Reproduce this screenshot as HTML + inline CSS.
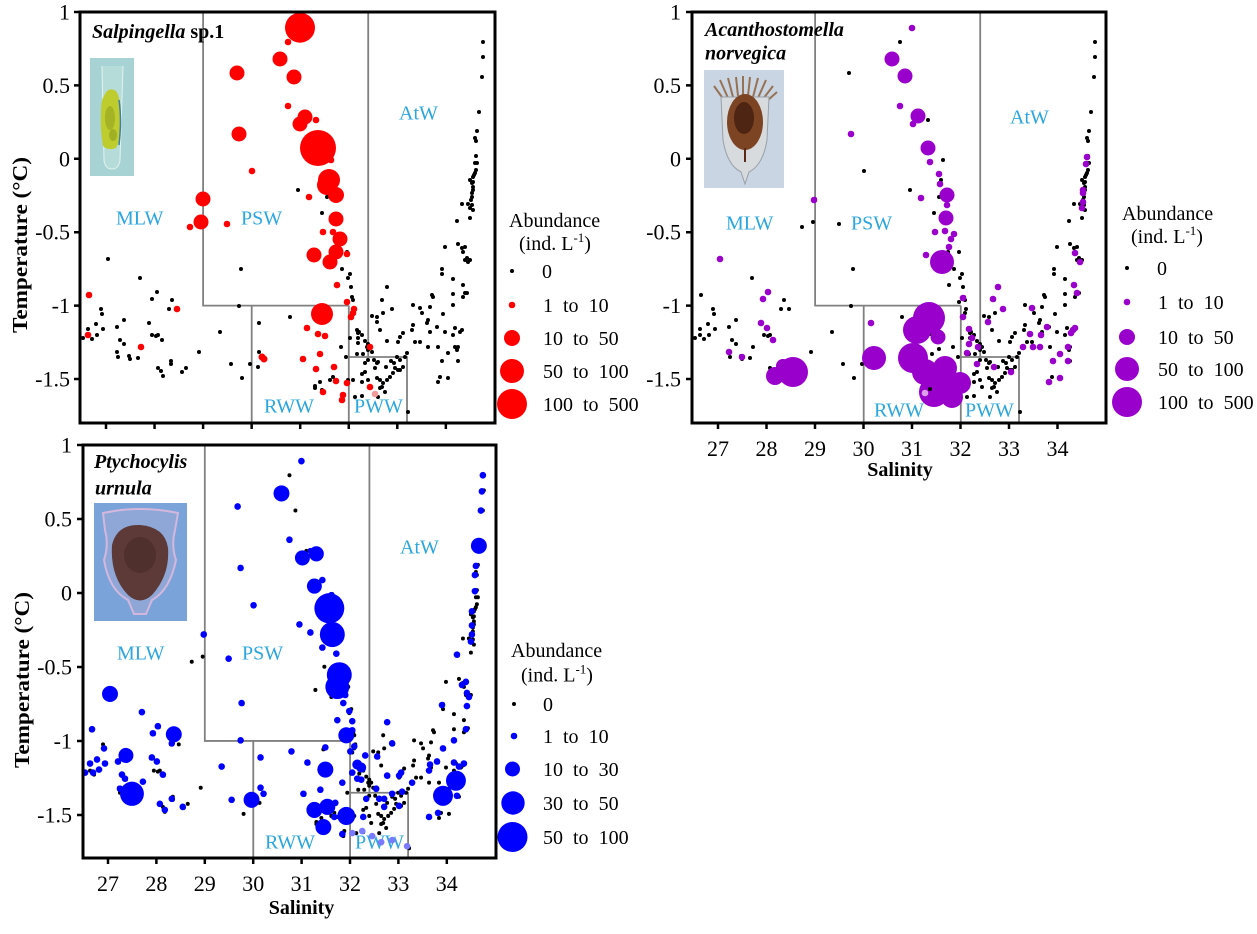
<!DOCTYPE html>
<html>
<head>
<meta charset="utf-8">
<style>
html,body{margin:0;padding:0;background:#fff;}
svg{display:block;}
.t{font-family:"Liberation Serif","Times New Roman",serif;}
</style>
</head>
<body>
<svg width="1257" height="934" viewBox="0 0 1257 934" xmlns="http://www.w3.org/2000/svg" class="t">
<defs>
<g id="base" fill="#000">
<circle cx="483" cy="42" r="2"/><circle cx="483" cy="57" r="2"/><circle cx="482" cy="77" r="2"/><circle cx="479" cy="112" r="2"/><circle cx="477" cy="131" r="2"/><circle cx="475" cy="138" r="2"/><circle cx="476" cy="141" r="2"/><circle cx="476" cy="156" r="2"/><circle cx="477" cy="163" r="2"/><circle cx="476" cy="170" r="2"/><circle cx="474" cy="175" r="2"/><circle cx="473" cy="182" r="2"/><circle cx="473" cy="187" r="2"/><circle cx="472" cy="193" r="2"/><circle cx="475" cy="163" r="2"/><circle cx="475" cy="173" r="2"/><circle cx="473" cy="177" r="2"/><circle cx="470" cy="180" r="2"/><circle cx="472" cy="183" r="2"/><circle cx="473" cy="190" r="2"/><circle cx="472" cy="197" r="2"/><circle cx="471" cy="200" r="2"/><circle cx="472" cy="205" r="2"/><circle cx="462" cy="204" r="2"/><circle cx="468" cy="204" r="2"/><circle cx="470" cy="208" r="2"/><circle cx="473" cy="210" r="2"/><circle cx="470" cy="218" r="2"/><circle cx="457" cy="221" r="2"/>
<circle cx="445" cy="247" r="2"/><circle cx="458" cy="244" r="2"/><circle cx="462" cy="248" r="2"/><circle cx="463" cy="252" r="2"/><circle cx="465" cy="247" r="2"/><circle cx="467" cy="258" r="2"/><circle cx="468" cy="262" r="2"/><circle cx="470" cy="260" r="2"/><circle cx="465" cy="260" r="2"/><circle cx="442" cy="269" r="2"/><circle cx="442" cy="274" r="2"/><circle cx="453" cy="279" r="2"/><circle cx="463" cy="285" r="2"/><circle cx="465" cy="293" r="2"/><circle cx="467" cy="293" r="2"/><circle cx="463" cy="297" r="2"/><circle cx="453" cy="294" r="2"/><circle cx="432" cy="295" r="2"/><circle cx="433" cy="297" r="2"/><circle cx="453" cy="305" r="2"/><circle cx="443" cy="314" r="2"/><circle cx="430" cy="307" r="2"/><circle cx="413" cy="305" r="2"/><circle cx="420" cy="308" r="2"/><circle cx="422" cy="313" r="2"/><circle cx="428" cy="320" r="2"/><circle cx="427" cy="323" r="2"/><circle cx="413" cy="325" r="2"/><circle cx="437" cy="327" r="2"/><circle cx="430" cy="332" r="2"/><circle cx="445" cy="332" r="2"/><circle cx="455" cy="328" r="2"/><circle cx="462" cy="330" r="2"/><circle cx="460" cy="332" r="2"/><circle cx="453" cy="335" r="2"/><circle cx="412" cy="330" r="2"/><circle cx="403" cy="333" r="2"/><circle cx="400" cy="337" r="2"/><circle cx="398" cy="342" r="2"/><circle cx="415" cy="342" r="2"/><circle cx="420" cy="342" r="2"/><circle cx="428" cy="347" r="2"/><circle cx="438" cy="347" r="2"/><circle cx="455" cy="347" r="2"/><circle cx="458" cy="347" r="2"/><circle cx="457" cy="350" r="2"/><circle cx="448" cy="353" r="2"/><circle cx="458" cy="361" r="2"/><circle cx="442" cy="361" r="2"/><circle cx="438" cy="382" r="2"/><circle cx="440" cy="377" r="2"/><circle cx="448" cy="378" r="2"/>
<circle cx="342" cy="269" r="2"/><circle cx="347" cy="252" r="2"/><circle cx="348" cy="278" r="2"/><circle cx="350" cy="274" r="2"/><circle cx="351" cy="287" r="2"/><circle cx="352" cy="297" r="2"/><circle cx="353" cy="300" r="2"/><circle cx="372" cy="316" r="2"/><circle cx="377" cy="317" r="2"/><circle cx="377" cy="322" r="2"/><circle cx="387" cy="287" r="2"/><circle cx="382" cy="300" r="2"/><circle cx="392" cy="309" r="2"/><circle cx="383" cy="313" r="2"/><circle cx="380" cy="330" r="2"/><circle cx="387" cy="341" r="2"/><circle cx="357" cy="330" r="2"/><circle cx="358" cy="333" r="2"/><circle cx="359" cy="332" r="2"/><circle cx="362" cy="335" r="2"/><circle cx="358" cy="338" r="2"/><circle cx="350" cy="338" r="2"/><circle cx="358" cy="343" r="2"/><circle cx="365" cy="341" r="2"/><circle cx="368" cy="344" r="2"/><circle cx="367" cy="347" r="2"/><circle cx="368" cy="350" r="2"/><circle cx="372" cy="352" r="2"/><circle cx="363" cy="354" r="2"/><circle cx="357" cy="354" r="2"/><circle cx="365" cy="363" r="2"/><circle cx="374" cy="360" r="2"/><circle cx="377" cy="363" r="2"/><circle cx="378" cy="362" r="2"/>
<circle cx="397" cy="357" r="2"/><circle cx="394" cy="363" r="2"/><circle cx="391" cy="361" r="2"/><circle cx="395" cy="368" r="2"/><circle cx="400" cy="370" r="2"/><circle cx="393" cy="373" r="2"/><circle cx="390" cy="377" r="2"/><circle cx="387" cy="380" r="2"/><circle cx="383" cy="383" r="2"/><circle cx="382" cy="387" r="2"/><circle cx="380" cy="388" r="2"/><circle cx="377" cy="378" r="2"/><circle cx="375" cy="368" r="2"/><circle cx="368" cy="360" r="2"/><circle cx="365" cy="372" r="2"/><circle cx="362" cy="374" r="2"/><circle cx="368" cy="380" r="2"/><circle cx="362" cy="382" r="2"/><circle cx="353" cy="380" r="2"/><circle cx="348" cy="380" r="2"/><circle cx="355" cy="397" r="2"/><circle cx="362" cy="396" r="2"/><circle cx="385" cy="392" r="2"/><circle cx="378" cy="397" r="2"/><circle cx="408" cy="412" r="2"/><circle cx="405" cy="357" r="2"/><circle cx="400" cy="360" r="2"/><circle cx="403" cy="367" r="2"/><circle cx="407" cy="353" r="2"/><circle cx="398" cy="370" r="2"/><circle cx="386" cy="367" r="2"/><circle cx="380" cy="380" r="2"/><circle cx="315" cy="386" r="2"/><circle cx="320" cy="382" r="2"/><circle cx="322" cy="390" r="2"/><circle cx="315" cy="388" r="2"/><circle cx="341" cy="347" r="2"/><circle cx="333" cy="377" r="2"/><circle cx="330" cy="380" r="2"/><circle cx="346" cy="357" r="2"/>
<circle cx="108" cy="259" r="2"/><circle cx="140" cy="278" r="2"/><circle cx="157" cy="292" r="2"/><circle cx="152" cy="299" r="2"/><circle cx="172" cy="300" r="2"/><circle cx="169" cy="309" r="2"/><circle cx="101" cy="309" r="2"/><circle cx="102" cy="314" r="2"/><circle cx="96" cy="324" r="2"/><circle cx="88" cy="329" r="2"/><circle cx="97" cy="335" r="2"/><circle cx="92" cy="339" r="2"/><circle cx="103" cy="329" r="2"/><circle cx="117" cy="327" r="2"/><circle cx="124" cy="320" r="2"/><circle cx="149" cy="323" r="2"/><circle cx="152" cy="335" r="2"/><circle cx="156" cy="336" r="2"/><circle cx="158" cy="335" r="2"/><circle cx="162" cy="340" r="2"/><circle cx="120" cy="340" r="2"/><circle cx="124" cy="344" r="2"/><circle cx="117" cy="352" r="2"/><circle cx="118" cy="357" r="2"/><circle cx="129" cy="356" r="2"/><circle cx="130" cy="359" r="2"/><circle cx="138" cy="358" r="2"/><circle cx="158" cy="368" r="2"/><circle cx="161" cy="371" r="2"/><circle cx="163" cy="376" r="2"/><circle cx="171" cy="361" r="2"/><circle cx="171" cy="364" r="2"/><circle cx="182" cy="372" r="2"/><circle cx="186" cy="368" r="2"/><circle cx="199" cy="352" r="2"/><circle cx="220" cy="332" r="2"/><circle cx="231" cy="364" r="2"/><circle cx="242" cy="378" r="2"/><circle cx="250" cy="364" r="2"/><circle cx="258" cy="367" r="2"/><circle cx="259" cy="352" r="2"/><circle cx="259" cy="323" r="2"/><circle cx="239" cy="306" r="2"/><circle cx="241" cy="269" r="2"/><circle cx="290" cy="317" r="2"/><circle cx="83" cy="338" r="2"/>
<circle cx="298" cy="190" r="2"/><circle cx="327" cy="197" r="2"/><circle cx="322" cy="213" r="2"/>
<circle cx="300" cy="28" r="2"/><circle cx="288" cy="42" r="2"/><circle cx="280" cy="59" r="2"/><circle cx="237" cy="73" r="2"/><circle cx="294" cy="77" r="2"/><circle cx="288" cy="106" r="2"/><circle cx="305" cy="117" r="2"/><circle cx="300" cy="124" r="2"/><circle cx="316" cy="120" r="2"/><circle cx="239" cy="134" r="2"/><circle cx="318" cy="148" r="2"/><circle cx="331" cy="160" r="2"/><circle cx="252" cy="171" r="2"/><circle cx="329" cy="180" r="2"/><circle cx="333" cy="195" r="2"/><circle cx="203" cy="199" r="2"/><circle cx="309" cy="197" r="2"/><circle cx="201" cy="222" r="2"/><circle cx="190" cy="227" r="2"/><circle cx="227" cy="224" r="2"/><circle cx="336" cy="219" r="2"/><circle cx="323" cy="232" r="2"/><circle cx="333" cy="232" r="2"/><circle cx="340" cy="239" r="2"/><circle cx="336" cy="252" r="2"/><circle cx="330" cy="262" r="2"/><circle cx="314" cy="255" r="2"/><circle cx="337" cy="285" r="2"/><circle cx="347" cy="302" r="2"/><circle cx="354" cy="309" r="2"/><circle cx="353" cy="313" r="2"/><circle cx="351" cy="317" r="2"/><circle cx="89" cy="295" r="2"/><circle cx="88" cy="335" r="2"/><circle cx="141" cy="347" r="2"/><circle cx="177" cy="309" r="2"/><circle cx="322" cy="314" r="2"/><circle cx="307" cy="328" r="2"/><circle cx="318" cy="334" r="2"/><circle cx="325" cy="336" r="2"/><circle cx="320" cy="354" r="2"/><circle cx="303" cy="359" r="2"/><circle cx="262" cy="357" r="2"/><circle cx="316" cy="369" r="2"/><circle cx="334" cy="367" r="2"/><circle cx="336" cy="381" r="2"/><circle cx="347" cy="383" r="2"/><circle cx="323" cy="392" r="2"/><circle cx="343" cy="395" r="2"/><circle cx="342" cy="400" r="2"/><circle cx="370" cy="387" r="2"/><circle cx="370" cy="347" r="2"/>
</g>
<g id="boxes" fill="none" stroke="#808080" stroke-width="1.8">
<path d="M203.1,12 V305.6 H348.8"/>
<path d="M251.7,305.6 V423"/>
<path d="M348.8,305.6 V423"/>
<path d="M368.2,12 V357"/>
<path d="M348.8,357 H407 V423"/>
</g>
</defs>

<rect x="0" y="0" width="1257" height="934" fill="#fff"/>

<!-- ================= PANEL 1 ================= -->
<use href="#boxes"/>
<g fill="#2ba6de" font-size="20">
<text x="116" y="224.6">MLW</text>
<text x="241" y="224.6">PSW</text>
<text x="399" y="119.6">AtW</text>
<text x="264" y="412.6">RWW</text>
<text x="354" y="412.6">PWW</text>
</g>
<!-- inset image 1 -->
<rect x="90" y="58" width="44" height="118" fill="#a7d3d5"/>
<path d="M102,66 L104,160 Q105,169 112,169 Q119,169 120,160 L123,66" fill="#b5dcd8" stroke="#e4f2ee" stroke-width="1"/>
<path d="M104,96 Q108,86 116,91 Q122,100 120,120 Q121,140 116,148 Q108,151 103,146 Q100,130 101,112 Q101,100 104,96Z" fill="#bfcc2e"/>
<ellipse cx="110" cy="118" rx="5" ry="12" fill="#97a822" opacity="0.7"/>
<ellipse cx="113" cy="135" rx="4" ry="6" fill="#8c9d20" opacity="0.6"/>
<path d="M119,100 Q122,120 119,145" stroke="#3f7f9f" stroke-width="1.5" fill="none"/>
<use href="#base"/>
<g fill="#ff0000">
<circle cx="300" cy="27.7" r="15"/><circle cx="288" cy="42" r="3.3"/><circle cx="280" cy="59" r="7.5"/><circle cx="237" cy="73" r="7.5"/><circle cx="294" cy="77" r="7.5"/><circle cx="288" cy="106" r="3.3"/><circle cx="305" cy="117" r="7.5"/><circle cx="300" cy="124" r="7.5"/><circle cx="316" cy="120" r="3.3"/><circle cx="239" cy="134" r="7.5"/><circle cx="318" cy="148" r="18"/><circle cx="331" cy="160" r="3.3"/><circle cx="252" cy="171" r="3.3"/><circle cx="329" cy="180" r="11"/><circle cx="327" cy="185" r="10"/><circle cx="336" cy="195" r="8"/><circle cx="203" cy="199" r="7.5"/><circle cx="309" cy="197" r="3.3"/><circle cx="201" cy="222" r="7.5"/><circle cx="190" cy="227" r="3.3"/><circle cx="227" cy="224" r="3.3"/><circle cx="336" cy="219" r="7.5"/><circle cx="323" cy="232" r="3.3"/><circle cx="333" cy="232" r="3.3"/><circle cx="340" cy="239" r="7.5"/><circle cx="336" cy="252" r="7.5"/><circle cx="330" cy="262" r="7.5"/><circle cx="314" cy="255" r="7.5"/><circle cx="347" cy="254" r="3.3"/><circle cx="337" cy="285" r="3.3"/><circle cx="347" cy="302" r="3.3"/><circle cx="354" cy="309" r="3.3"/><circle cx="353" cy="313" r="3.3"/><circle cx="351" cy="317" r="3.3"/><circle cx="89" cy="295" r="3.3"/><circle cx="88" cy="335" r="3.3"/><circle cx="141" cy="347" r="3.3"/><circle cx="177" cy="309" r="3.3"/><circle cx="322" cy="314" r="11"/><circle cx="307" cy="328" r="3.3"/><circle cx="318" cy="334" r="3.3"/><circle cx="325" cy="336" r="3.3"/><circle cx="320" cy="354" r="3.3"/><circle cx="303" cy="359" r="3.3"/><circle cx="262" cy="357" r="3.5"/><circle cx="264" cy="359" r="3.5"/><circle cx="316" cy="369" r="3.3"/><circle cx="334" cy="367" r="3.3"/><circle cx="336" cy="381" r="3.3"/><circle cx="347" cy="383" r="3.3"/><circle cx="323" cy="392" r="3.3"/><circle cx="343" cy="395" r="3.3"/><circle cx="342" cy="400" r="3.3"/><circle cx="370" cy="387" r="3.3"/><circle cx="370" cy="347" r="3.3"/>
</g>
<circle cx="375" cy="394" r="3.3" fill="#f49a9a"/>
<!-- frame 1 -->
<rect x="80" y="12" width="415" height="411" fill="none" stroke="#000" stroke-width="3"/>
<g stroke="#000" stroke-width="2.5">
<path d="M74,12H80M74,85.4H80M74,158.8H80M74,232.2H80M74,305.6H80M74,379H80"/>
<path d="M106,423V429M154.55,423V429M203.1,423V429M251.65,423V429M300.2,423V429M348.75,423V429M397.3,423V429M445.85,423V429"/>
</g>
<g font-size="22" text-anchor="end">
<text x="70" y="19.5">1</text><text x="70" y="93">0.5</text><text x="70" y="166.3">0</text><text x="70" y="239.7">-0.5</text><text x="70" y="313.1">-1</text><text x="70" y="386.5">-1.5</text>
</g>
<text transform="translate(27,245) rotate(-90)" text-anchor="middle" font-size="21" font-weight="bold" textLength="176" lengthAdjust="spacingAndGlyphs">Temperature (°C)</text>
<text x="92" y="38" font-size="20" font-weight="bold"><tspan font-style="italic">Salpingella</tspan> sp.1</text>
<!-- legend 1 -->
<g font-size="20">
<text x="509" y="227">Abundance</text>
<text x="519" y="250">(ind. L<tspan font-size="13" dy="-8">-1</tspan><tspan dy="8">)</tspan></text>
<circle cx="512" cy="271" r="2" fill="#000"/><text x="542" y="278">0</text>
<circle cx="512" cy="305" r="3.3" fill="#f00"/><text x="543" y="312">1</text><text x="563" y="312">to</text><text x="588.6" y="312">10</text>
<circle cx="512" cy="338" r="8" fill="#f00"/><text x="543" y="345">10</text><text x="573" y="345">to</text><text x="598.6" y="345">50</text>
<circle cx="512" cy="371" r="12" fill="#f00"/><text x="543" y="378">50</text><text x="573" y="378">to</text><text x="598.6" y="378">100</text>
<circle cx="512" cy="404" r="15" fill="#f00"/><text x="543" y="411">100</text><text x="583" y="411">to</text><text x="608.6" y="411">500</text>
</g>

<!-- ================= PANEL 2 ================= -->
<g transform="translate(612,0)"><use href="#boxes"/></g>
<g fill="#2ba6de" font-size="20">
<text x="726" y="229.6">MLW</text>
<text x="851" y="229.6">PSW</text>
<text x="1010" y="123.6">AtW</text>
<text x="874" y="416.6">RWW</text>
<text x="965" y="416.6">PWW</text>
</g>
<!-- inset image 2 -->
<rect x="704" y="70" width="80" height="118" fill="#c9d5e3"/>
<g stroke="#8a5a30" stroke-width="2" opacity="0.8" fill="none">
<path d="M724,100 L714,86"/><path d="M728,98 L720,80"/><path d="M733,97 L728,78"/><path d="M738,96 L736,77"/><path d="M743,96 L743,76"/><path d="M748,96 L750,77"/><path d="M753,97 L758,78"/><path d="M758,98 L766,80"/><path d="M763,99 L773,86"/><path d="M767,101 L777,92"/>
</g>
<path d="M721,97 L769,97 L767,140 Q763,165 749,172 L745,184 L741,172 Q727,165 723,140 Z" fill="#d7dbde" stroke="#98a0a8" stroke-width="1"/>
<ellipse cx="745" cy="122" rx="18" ry="28" fill="#7d4424"/>
<ellipse cx="744" cy="118" rx="10" ry="16" fill="#4e2412"/>
<path d="M745,148 L745,162" stroke="#5a2a15" stroke-width="2"/>
<g transform="translate(612,0)">
<use href="#base"/>
<g fill="#9900cc">
<circle cx="300" cy="28" r="3.3"/><circle cx="280" cy="59" r="7.5"/><circle cx="293" cy="76" r="7.5"/><circle cx="288" cy="106" r="3.3"/><circle cx="306" cy="116" r="7.5"/><circle cx="301" cy="124" r="3.3"/><circle cx="239" cy="134" r="3.3"/><circle cx="316" cy="148" r="7.5"/><circle cx="318" cy="162" r="3.3"/><circle cx="327" cy="174" r="3.3"/><circle cx="328" cy="184" r="3.3"/><circle cx="335" cy="195" r="7.5"/><circle cx="309" cy="198" r="3.3"/><circle cx="335" cy="205" r="3.3"/><circle cx="202" cy="200" r="3.3"/><circle cx="334" cy="218" r="7.5"/><circle cx="323" cy="232" r="3.3"/><circle cx="333" cy="231" r="3.3"/><circle cx="342" cy="234" r="3.3"/><circle cx="339" cy="239" r="3.3"/><circle cx="337" cy="247" r="3.3"/><circle cx="314" cy="255" r="3.3"/><circle cx="330" cy="262" r="12"/><circle cx="108" cy="259" r="3.3"/><circle cx="151" cy="299" r="3.3"/><circle cx="156" cy="292" r="3.3"/><circle cx="149" cy="323" r="3.3"/><circle cx="155" cy="328" r="3.3"/><circle cx="161" cy="340" r="3.3"/><circle cx="117" cy="352" r="3.3"/><circle cx="130" cy="357" r="3.3"/><circle cx="163" cy="376" r="9"/><circle cx="181" cy="372" r="15"/><circle cx="171" cy="366" r="7"/><circle cx="259" cy="323" r="3.3"/><circle cx="262" cy="358" r="12"/><circle cx="317" cy="318" r="16"/><circle cx="305" cy="330" r="14"/><circle cx="326" cy="337" r="7.5"/><circle cx="301" cy="358" r="15"/><circle cx="313" cy="372" r="13"/><circle cx="333" cy="368" r="12"/><circle cx="322" cy="392" r="15"/><circle cx="340" cy="397" r="11"/><circle cx="348" cy="383" r="11"/><circle cx="330" cy="383" r="12"/><circle cx="318" cy="380" r="10"/><circle cx="351" cy="298" r="3.3"/><circle cx="351" cy="317" r="3.3"/><circle cx="357" cy="329" r="3.3"/><circle cx="360" cy="338" r="3.3"/><circle cx="357" cy="344" r="3.3"/><circle cx="355" cy="353" r="3.3"/><circle cx="366" cy="347" r="3.3"/><circle cx="365" cy="364" r="3.3"/><circle cx="376" cy="322" r="3.3"/><circle cx="381" cy="299" r="3.3"/><circle cx="386" cy="287" r="3.3"/><circle cx="391" cy="309" r="3.3"/><circle cx="382" cy="367" r="3.3"/><circle cx="399" cy="372" r="3.3"/><circle cx="411" cy="347" r="3.3"/><circle cx="418" cy="334" r="3.3"/><circle cx="420" cy="308" r="3.3"/><circle cx="421" cy="347" r="3.3"/><circle cx="428" cy="347" r="3.3"/><circle cx="429" cy="335" r="3.3"/><circle cx="435" cy="327" r="3.3"/><circle cx="441" cy="361" r="3.3"/><circle cx="448" cy="354" r="3.3"/><circle cx="437" cy="382" r="3.3"/><circle cx="448" cy="378" r="3.3"/><circle cx="456" cy="361" r="3.3"/><circle cx="456" cy="347" r="3.3"/><circle cx="459" cy="333" r="3.3"/><circle cx="461" cy="330" r="3.3"/><circle cx="463" cy="328" r="3.3"/><circle cx="462" cy="285" r="3.3"/><circle cx="465" cy="293" r="3.3"/><circle cx="463" cy="253" r="3.3"/><circle cx="468" cy="262" r="3.3"/><circle cx="470" cy="208" r="3.3"/><circle cx="471" cy="202" r="3.3"/><circle cx="471" cy="193" r="3.3"/><circle cx="471" cy="190" r="3.3"/><circle cx="475" cy="157" r="3.3"/><circle cx="474" cy="164" r="3.3"/>
</g>
<circle cx="313" cy="393" r="3.3" fill="#dca0ec"/>
<circle cx="318" cy="389" r="2" fill="#000"/><circle cx="327" cy="349" r="2" fill="#000"/>
</g>
<!-- frame 2 -->
<rect x="692" y="12" width="414" height="411" fill="none" stroke="#000" stroke-width="3"/>
<g stroke="#000" stroke-width="2.5">
<path d="M686,12H692M686,85.4H692M686,158.8H692M686,232.2H692M686,305.6H692M686,379H692"/>
<path d="M718,423V429M766.5,423V429M815,423V429M863.5,423V429M912,423V429M960.5,423V429M1009,423V429M1057.5,423V429"/>
</g>
<g font-size="22" text-anchor="end">
<text x="681" y="19.5">1</text><text x="681" y="93">0.5</text><text x="681" y="166.3">0</text><text x="681" y="239.7">-0.5</text><text x="681" y="313.1">-1</text><text x="681" y="386.5">-1.5</text>
</g>
<g font-size="22" text-anchor="middle">
<text x="718" y="456">27</text><text x="766.5" y="456">28</text><text x="815" y="456">29</text><text x="863.5" y="456">30</text><text x="912" y="456">31</text><text x="960.5" y="456">32</text><text x="1009" y="456">33</text><text x="1057.5" y="456">34</text>
</g>
<text x="900" y="476" text-anchor="middle" font-size="20" font-weight="bold">Salinity</text>
<g font-size="20" font-weight="bold" font-style="italic">
<text x="705" y="36">Acanthostomella</text>
<text x="705" y="59.5">norvegica</text>
</g>
<!-- legend 2 -->
<g font-size="20">
<text x="1122" y="220">Abundance</text>
<text x="1131" y="243">(ind. L<tspan font-size="13" dy="-8">-1</tspan><tspan dy="8">)</tspan></text>
<circle cx="1127" cy="268" r="2" fill="#000"/><text x="1157" y="275">0</text>
<circle cx="1127" cy="302" r="3.3" fill="#9900cc"/><text x="1158" y="309">1</text><text x="1178" y="309">to</text><text x="1203.6" y="309">10</text>
<circle cx="1127" cy="337" r="8" fill="#9900cc"/><text x="1158" y="344">10</text><text x="1188" y="344">to</text><text x="1213.6" y="344">50</text>
<circle cx="1127" cy="369" r="12" fill="#9900cc"/><text x="1158" y="376">50</text><text x="1188" y="376">to</text><text x="1213.6" y="376">100</text>
<circle cx="1127" cy="402" r="15" fill="#9900cc"/><text x="1158" y="409">100</text><text x="1198" y="409">to</text><text x="1223.6" y="409">500</text>
</g>

<!-- ================= PANEL 3 ================= -->
<g transform="translate(108,445) scale(0.997,1.008) translate(-106,-12)"><use href="#boxes"/></g>
<g fill="#2ba6de" font-size="20">
<text x="117" y="659.6">MLW</text>
<text x="242" y="659.6">PSW</text>
<text x="400" y="553.6">AtW</text>
<text x="265" y="848.6">RWW</text>
<text x="355" y="848.6">PWW</text>
</g>
<!-- inset image 3 -->
<rect x="94" y="503" width="93" height="118" fill="#79a3d9"/>
<path d="M103,513 Q140,505 178,513 L175,530 Q171,545 176,560 Q170,590 152,600 L146,614 L134,614 L128,600 Q109,590 104,560 Q109,545 105,530 Z" fill="#8ea7d7" stroke="#d3b7dd" stroke-width="2"/>
<path d="M112,545 Q117,524 140,525 Q165,527 168,548 Q170,575 152,595 Q140,606 128,595 Q110,576 112,545Z" fill="#5d3a37"/>
<ellipse cx="140" cy="555" rx="16" ry="18" fill="#4a2c2a" opacity="0.7"/>
<g transform="translate(108,445) scale(0.997,1.008) translate(-106,-12)">
<use href="#base"/>
<g fill="#0000ff">
<circle cx="300" cy="28" r="3.3"/><circle cx="280" cy="60" r="8"/><circle cx="236" cy="73" r="3.3"/><circle cx="288" cy="106" r="3.3"/><circle cx="301" cy="124" r="7.5"/><circle cx="315" cy="120" r="7.5"/><circle cx="309" cy="117" r="3"/><circle cx="239" cy="134" r="3.3"/><circle cx="313" cy="152" r="7.5"/><circle cx="321" cy="146" r="3.3"/><circle cx="330" cy="161" r="3.3"/><circle cx="328" cy="174" r="15"/><circle cx="331" cy="200" r="12.5"/><circle cx="298" cy="190" r="3.3"/><circle cx="309" cy="198" r="3.3"/><circle cx="252" cy="171" r="3.3"/><circle cx="202" cy="200" r="3.3"/><circle cx="227" cy="224" r="3.3"/><circle cx="321" cy="213" r="3.3"/><circle cx="335" cy="219" r="3.3"/><circle cx="338" cy="240" r="12.5"/><circle cx="336" cy="252" r="12"/><circle cx="344" cy="260" r="3.3"/><circle cx="108" cy="259" r="8"/><circle cx="482" cy="42" r="3.3"/><circle cx="481" cy="58" r="3.3"/><circle cx="480" cy="77" r="3.3"/><circle cx="478" cy="112" r="8"/><circle cx="475" cy="132" r="3.3"/><circle cx="474" cy="141" r="3.3"/><circle cx="474" cy="157" r="3.3"/><circle cx="471" cy="177" r="3.3"/><circle cx="471" cy="191" r="3.3"/><circle cx="471" cy="200" r="3.3"/><circle cx="470" cy="207" r="3.3"/><circle cx="456" cy="220" r="3.3"/><circle cx="461" cy="250" r="3.3"/><circle cx="466" cy="258" r="3.3"/><circle cx="90" cy="294" r="3.3"/><circle cx="88" cy="328" r="3.3"/><circle cx="91" cy="337" r="3.3"/><circle cx="83" cy="337" r="3.3"/><circle cx="102" cy="313" r="3.3"/><circle cx="103" cy="328" r="3.3"/><circle cx="97" cy="334" r="3.3"/><circle cx="95" cy="324" r="3.3"/><circle cx="124" cy="320" r="7.5"/><circle cx="116" cy="326" r="3.3"/><circle cx="120" cy="339" r="3.3"/><circle cx="123" cy="343" r="3.3"/><circle cx="118" cy="353" r="3.3"/><circle cx="130" cy="358" r="12"/><circle cx="141" cy="346" r="3.3"/><circle cx="140" cy="277" r="3.3"/><circle cx="156" cy="291" r="3.3"/><circle cx="151" cy="298" r="3.3"/><circle cx="150" cy="322" r="3.3"/><circle cx="155" cy="326" r="3.3"/><circle cx="161" cy="339" r="3.3"/><circle cx="172" cy="299" r="8"/><circle cx="170" cy="308" r="3.3"/><circle cx="158" cy="368" r="3.3"/><circle cx="163" cy="374" r="3.3"/><circle cx="170" cy="363" r="3.3"/><circle cx="181" cy="371" r="3.3"/><circle cx="220" cy="331" r="3.3"/><circle cx="230" cy="364" r="3.3"/><circle cx="240" cy="268" r="3.3"/><circle cx="239" cy="305" r="3.3"/><circle cx="250" cy="364" r="8"/><circle cx="259" cy="322" r="3.3"/><circle cx="259" cy="352" r="3.3"/><circle cx="262" cy="358" r="3.3"/><circle cx="290" cy="316" r="3.3"/><circle cx="302" cy="358" r="3.3"/><circle cx="306" cy="327" r="3.3"/><circle cx="319" cy="354" r="3.3"/><circle cx="324" cy="312" r="3.3"/><circle cx="324" cy="334" r="8"/><circle cx="313" cy="374" r="8"/><circle cx="326" cy="371" r="8"/><circle cx="334" cy="367" r="3.3"/><circle cx="322" cy="391" r="8"/><circle cx="333" cy="381" r="3.3"/><circle cx="341" cy="398" r="3.3"/><circle cx="345" cy="380" r="9"/><circle cx="341" cy="347" r="3.3"/><circle cx="336" cy="285" r="3.3"/><circle cx="342" cy="268" r="3.3"/><circle cx="348" cy="276" r="3.3"/><circle cx="351" cy="286" r="3.3"/><circle cx="351" cy="295" r="3.3"/><circle cx="345" cy="300" r="8"/><circle cx="349" cy="316" r="3.3"/><circle cx="353" cy="311" r="3.3"/><circle cx="356" cy="329" r="5"/><circle cx="360" cy="332" r="5"/><circle cx="351" cy="337" r="3.3"/><circle cx="356" cy="343" r="3.3"/><circle cx="360" cy="344" r="3.3"/><circle cx="364" cy="320" r="3.3"/><circle cx="376" cy="321" r="3.3"/><circle cx="365" cy="363" r="3.3"/><circle cx="362" cy="381" r="3.3"/><circle cx="375" cy="353" r="3.3"/><circle cx="378" cy="363" r="3.3"/><circle cx="383" cy="363" r="3.3"/><circle cx="383" cy="371" r="3.3"/><circle cx="386" cy="287" r="3.3"/><circle cx="391" cy="308" r="3.3"/><circle cx="386" cy="340" r="3.3"/><circle cx="391" cy="358" r="3.3"/><circle cx="398" cy="370" r="3.3"/><circle cx="398" cy="340" r="3.3"/><circle cx="400" cy="337" r="3.3"/><circle cx="401" cy="356" r="3.3"/><circle cx="411" cy="347" r="3.3"/><circle cx="428" cy="335" r="3.3"/><circle cx="429" cy="329" r="3.3"/><circle cx="436" cy="326" r="3.3"/><circle cx="428" cy="381" r="3.3"/><circle cx="437" cy="377" r="3.3"/><circle cx="441" cy="270" r="3.3"/><circle cx="442" cy="313" r="3.3"/><circle cx="453" cy="305" r="3.3"/><circle cx="453" cy="327" r="3.3"/><circle cx="463" cy="328" r="3.3"/><circle cx="458" cy="331" r="3.3"/><circle cx="455" cy="345" r="10"/><circle cx="442" cy="360" r="10"/><circle cx="456" cy="360" r="3.3"/><circle cx="466" cy="271" r="3.3"/><circle cx="465" cy="294" r="3.3"/><circle cx="468" cy="262" r="3.3"/><circle cx="465" cy="247" r="3.3"/>
</g>
<g fill="#7a7aff">
<circle cx="406" cy="410" r="3.3"/><circle cx="391" cy="404" r="3.3"/><circle cx="380" cy="406" r="3.3"/><circle cx="351" cy="397" r="3.3"/><circle cx="361" cy="395" r="3.3"/><circle cx="371" cy="400" r="3.3"/>
</g>
</g>
<!-- frame 3 -->
<rect x="83" y="445" width="413" height="413" fill="none" stroke="#000" stroke-width="3"/>
<g stroke="#000" stroke-width="2.5">
<path d="M77,445H83M77,519H83M77,593H83M77,667H83M77,741H83M77,815H83"/>
<path d="M108,858V864M156.4,858V864M204.8,858V864M253.2,858V864M301.6,858V864M350,858V864M398.4,858V864M446.8,858V864"/>
</g>
<g font-size="22" text-anchor="end">
<text x="72" y="452.5">1</text><text x="72" y="526.5">0.5</text><text x="72" y="600.5">0</text><text x="72" y="674.5">-0.5</text><text x="72" y="748.5">-1</text><text x="72" y="822.5">-1.5</text>
</g>
<g font-size="22" text-anchor="middle">
<text x="108" y="891">27</text><text x="156.4" y="891">28</text><text x="204.8" y="891">29</text><text x="253.2" y="891">30</text><text x="301.6" y="891">31</text><text x="350" y="891">32</text><text x="398.4" y="891">33</text><text x="446.8" y="891">34</text>
</g>
<text x="301.5" y="914" text-anchor="middle" font-size="20" font-weight="bold">Salinity</text>
<text transform="translate(29,680) rotate(-90)" text-anchor="middle" font-size="21" font-weight="bold" textLength="176" lengthAdjust="spacingAndGlyphs">Temperature (°C)</text>
<g font-size="20" font-weight="bold" font-style="italic">
<text x="94" y="468">Ptychocylis</text>
<text x="95" y="494.5">urnula</text>
</g>
<!-- legend 3 -->
<g font-size="20">
<text x="511" y="657">Abundance</text>
<text x="521" y="681.5">(ind. L<tspan font-size="13" dy="-8">-1</tspan><tspan dy="8">)</tspan></text>
<circle cx="514" cy="704" r="2" fill="#000"/><text x="543" y="711">0</text>
<circle cx="514" cy="736" r="3.3" fill="#00f"/><text x="543" y="743">1</text><text x="563" y="743">to</text><text x="588.6" y="743">10</text>
<circle cx="512.5" cy="769" r="7.5" fill="#00f"/><text x="543" y="776">10</text><text x="573" y="776">to</text><text x="598.6" y="776">30</text>
<circle cx="513" cy="803" r="11.7" fill="#00f"/><text x="543" y="810">30</text><text x="573" y="810">to</text><text x="598.6" y="810">50</text>
<circle cx="512.5" cy="837" r="15" fill="#00f"/><text x="543" y="844">50</text><text x="573" y="844">to</text><text x="598.6" y="844">100</text>
</g>
</svg>
</body>
</html>
